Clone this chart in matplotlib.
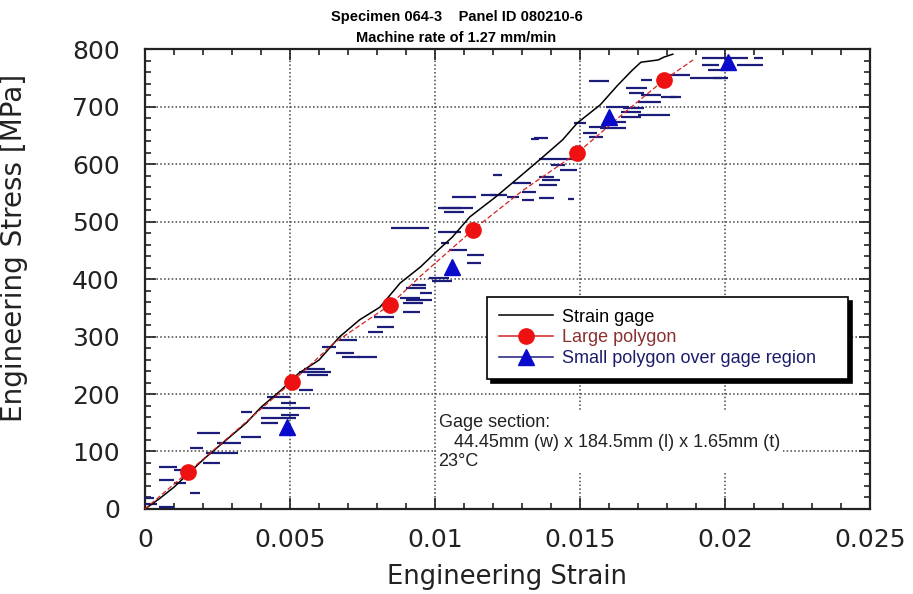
import matplotlib
matplotlib.use("Agg")
import matplotlib.pyplot as plt
from matplotlib.lines import Line2D
import numpy as np

# ---------------- data ----------------
gage_strain = [0, 0.0005, 0.001, 0.0015, 0.0021, 0.0028, 0.0035, 0.004, 0.0047, 0.0053, 0.006,
               0.0067, 0.0074, 0.0081, 0.0088, 0.0095, 0.0101, 0.0106, 0.0112, 0.0121,
               0.0129, 0.0136, 0.0144, 0.0149, 0.0157, 0.0163, 0.0168, 0.0171, 0.0177,
               0.0179, 0.0182]
gage_stress = [0, 18, 38, 62, 90, 120, 150, 177, 207, 236, 259,
               299, 329, 351, 393, 421, 450, 473, 508, 543,
               577, 607, 642, 671, 703, 737, 763, 777, 781,
               786, 791]

large_strain = [0, 0.00148, 0.003, 0.00507, 0.0065, 0.00845, 0.0095, 0.0113, 0.013,
                0.0149, 0.0165, 0.0179, 0.0189]
large_stress = [0, 64, 130, 221, 288, 355, 405, 485, 553, 619, 688, 746, 781]
large_marker_idx = [1, 3, 5, 7, 9, 11]

small_tri_strain = [0.0049, 0.0106, 0.0160, 0.0201]
small_tri_stress = [143, 421, 682, 777]

# short horizontal strain excursions of the small-polygon series: start, end, stress
small_x0 = [0.0, 0.0, 0.0005, 0.0005, 0.0010, 0.0005, 0.0010, 0.00155, 0.00155, 0.0020,
            0.0021, 0.0025, 0.0018, 0.0033, 0.0033, 0.0040, 0.0040, 0.0047, 0.0040, 0.0047,
            0.0042, 0.0047, 0.0053, 0.0056, 0.0055, 0.0053, 0.0061, 0.0066, 0.0067, 0.0073,
            0.0068, 0.0077, 0.0079, 0.0080, 0.0089, 0.0090, 0.0095, 0.0088, 0.0089, 0.0090,
            0.0092, 0.0098, 0.0099, 0.0085, 0.0101, 0.0102, 0.0105, 0.0111, 0.0111, 0.0101,
            0.0103, 0.0102, 0.0106, 0.0116, 0.0119, 0.0125, 0.0127, 0.0130, 0.0130, 0.0136,
            0.0146, 0.0120, 0.0136, 0.0137, 0.0136, 0.0143, 0.0136, 0.0140, 0.0133, 0.0134,
            0.0148, 0.0151, 0.0153, 0.0153, 0.0157, 0.0160, 0.0164, 0.0164, 0.0159, 0.0165,
            0.0170, 0.0170, 0.0167, 0.0171, 0.0178, 0.0181, 0.0153, 0.0166, 0.0171, 0.0181,
            0.0188, 0.0196, 0.0192, 0.0194, 0.0192, 0.0197, 0.0204, 0.0210]
small_x1 = [0.0004, 0.0003, 0.0010, 0.0010, 0.0014, 0.0011, 0.0017, 0.0019, 0.0020, 0.0026,
            0.0032, 0.0033, 0.0026, 0.0040, 0.0037, 0.0046, 0.0047, 0.0052, 0.0057, 0.0052,
            0.0050, 0.0053, 0.0058, 0.0063, 0.0062, 0.0064, 0.0066, 0.0072, 0.0073, 0.0080,
            0.0074, 0.0082, 0.0086, 0.0086, 0.0095, 0.0099, 0.0099, 0.0095, 0.0096, 0.0097,
            0.0097, 0.0105, 0.0106, 0.0098, 0.0109, 0.0105, 0.0111, 0.0117, 0.0116, 0.0109,
            0.0110, 0.0113, 0.0114, 0.0121, 0.0125, 0.0129, 0.0133, 0.0135, 0.0134, 0.0141,
            0.0148, 0.0123, 0.0141, 0.0143, 0.0142, 0.0149, 0.0148, 0.0145, 0.0136, 0.0139,
            0.0152, 0.0156, 0.0158, 0.0159, 0.0166, 0.0166, 0.0171, 0.0171, 0.0167, 0.0172,
            0.0178, 0.0181, 0.0172, 0.0178, 0.0183, 0.0185, 0.0160, 0.0173, 0.0175, 0.0188,
            0.0199, 0.0201, 0.0197, 0.0201, 0.0198, 0.0208, 0.0213, 0.0213]
small_y = [8, 19, 3, 50, 45, 73, 68, 28, 106, 80,
           97, 115, 132, 125, 169, 150, 158, 158, 176, 184,
           195, 163, 207, 233, 243, 238, 282, 271, 294, 264,
           264, 308, 334, 316, 343, 363, 375, 367, 358, 384,
           390, 402, 396, 489, 482, 463, 450, 442, 428, 523,
           517, 523, 543, 546, 546, 543, 567, 551, 538, 541,
           539, 581, 577, 572, 563, 590, 609, 598, 643, 645,
           671, 654, 647, 664, 663, 673, 682, 690, 699, 697,
           708, 685, 723, 720, 716, 717, 744, 732, 746, 755,
           750, 750, 784, 763, 772, 784, 772, 784]

x_ticks = [0, 0.005, 0.01, 0.015, 0.02, 0.025]
x_tick_labels = ["0", "0.005", "0.01", "0.015", "0.02", "0.025"]
y_ticks = [0, 100, 200, 300, 400, 500, 600, 700, 800]

# ---------------- figure ----------------
fig = plt.figure(figsize=(9.13, 5.94), dpi=100)
ax = fig.add_axes([0.1588, 0.1431, 0.7941, 0.7744])

red = "#d62020"
navy = "#1c1c7a"

ax.hlines(small_y, small_x0, small_x1, colors=navy, linewidth=1.6, zorder=3)
ax.plot(gage_strain, gage_stress, color="black", linewidth=1.1, zorder=4)
ax.plot(large_strain, large_stress, color=red, linewidth=0.9, linestyle=(0, (4, 2)), zorder=4)
ax.plot([large_strain[i] for i in large_marker_idx], [large_stress[i] for i in large_marker_idx],
        linestyle="none", marker="o", markersize=11, color="#ee1111", zorder=6)
ax.plot(small_tri_strain, small_tri_stress, linestyle="none", marker="^", markersize=11,
        color="#0a0acc", zorder=6)

ax.set_xlim(0, 0.025)
ax.set_ylim(0, 800)
ax.set_xticks(x_ticks)
ax.set_xticklabels(x_tick_labels)
ax.set_yticks(y_ticks)
ax.set_xticks(np.arange(0, 0.02501, 0.001), minor=True)
ax.set_yticks(np.arange(0, 801, 20), minor=True)

ax.grid(True, which="major", color="#444444", linestyle=(0, (1, 1.5)), linewidth=1.1)
ax.set_axisbelow(True)

ax.tick_params(which="both", direction="in", top=True, right=True, width=1.2, color="#222222")
ax.tick_params(which="major", length=8)
ax.tick_params(which="minor", length=4)
ax.tick_params(axis="x", which="major", labelsize=18, pad=14)
ax.tick_params(axis="y", which="major", labelsize=18, pad=18)
for lab in ax.get_xticklabels() + ax.get_yticklabels():
    lab.set_family("DejaVu Sans")
    lab.set_color("#222222")

for sp in ax.spines.values():
    sp.set_linewidth(1.6)
    sp.set_color("#222222")

ax.set_xlabel("Engineering Strain", fontsize=18.5, family="DejaVu Sans", color="#222222", labelpad=8)
ax.set_ylabel("Engineering Stress [MPa]", fontsize=20, family="DejaVu Sans", color="#222222")
ax.yaxis.set_label_coords(-0.161, 0.567)

title_font = ["Liberation Sans Narrow", "Liberation Sans", "DejaVu Sans"]
fig.text(0.5, 0.972, "Specimen 064-3    Panel ID 080210-6", ha="center", va="center",
         fontsize=10.5, fontweight="bold", family=title_font)
fig.text(0.5, 0.936, "Machine rate of 1.27 mm/min", ha="center", va="center",
         fontsize=10.5, fontweight="bold", family=title_font)

handles = [
    Line2D([], [], color="black", linewidth=1.1),
    Line2D([], [], color=red, linewidth=1.1, marker="o", markersize=11, markerfacecolor="#ee1111",
           markeredgecolor="#ee1111"),
    Line2D([], [], color=navy, linewidth=1.1, marker="^", markersize=11, markerfacecolor="#0a0acc",
           markeredgecolor="#0a0acc"),
]
labels = ["Strain gage", "Large polygon", "Small polygon over gage region"]
leg = ax.legend(handles, labels, loc="upper left", bbox_to_anchor=(0.472, 0.293, 0.498, 0.168),
                mode="expand", borderaxespad=0, fancybox=False, framealpha=1, edgecolor="black",
                handlelength=3.0, labelspacing=0.2, borderpad=0.65, handletextpad=0.5,
                prop={"family": "Liberation Sans", "size": 13},
                shadow={"color": "black", "alpha": 1, "ox": 3, "oy": -3},
                labelcolor=["black", "#8b3030", "#1c1c6b"])
leg.get_frame().set_linewidth(1.2)
leg.set_zorder(10)

ax.text(0.405, 0.206, "Gage section:\n   44.45mm (w) x 184.5mm (l) x 1.65mm (t)\n23\u00b0C",
        transform=ax.transAxes, ha="left", va="top", fontsize=13, family="Liberation Sans",
        color="#222222", linespacing=1.2, zorder=7,
        bbox=dict(facecolor="white", edgecolor="none", pad=2))

fig.savefig("out.png", dpi=100)
